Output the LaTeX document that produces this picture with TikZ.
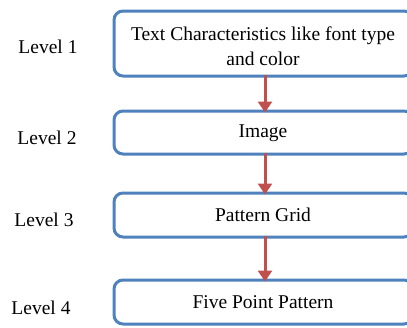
\documentclass[tikz,border=0pt]{standalone}
\usepackage{fontspec}
\setmainfont{Liberation Serif}
\usetikzlibrary{arrows.meta}
\definecolor{boxblue}{HTML}{4F81BD}
\definecolor{arrred}{HTML}{C0504D}
\begin{document}
\begin{tikzpicture}[x=1pt,y=-1pt,
  levelbox/.style={draw=boxblue,line width=3pt,rounded corners=9pt,fill=white},
  lvl/.style={font=\fontsize{19.5}{23}\selectfont,inner sep=0pt},
  boxtext/.style={font=\fontsize{19.5}{25}\selectfont,inner sep=0pt,align=center},
  conn/.style={draw=arrred,line width=3pt,-{Triangle[length=11pt,width=14pt]}}]
\useasboundingbox (0,0) rectangle (407,327);
\clip (0,0) rectangle (407,327);
\fill[white] (0,0) rectangle (407,327);
\draw[levelbox] (114,11) rectangle (413,76);
\draw[levelbox] (114,111) rectangle (413,154);
\draw[levelbox] (114,193) rectangle (413,237);
\draw[levelbox] (114,280) rectangle (413,324);
\coordinate (b1t) at (265,11);
\coordinate (b1b) at (265,76);
\coordinate (b2t) at (265,111);
\coordinate (b2b) at (265,154);
\coordinate (b3t) at (265,193);
\coordinate (b3b) at (265,237);
\coordinate (b4t) at (265,280);
\node[boxtext] (t1) at (263,46) {Text Characteristics like font type\\and color};
\node[boxtext] (t2) at (263,133) {Image};
\node[boxtext] (t3) at (263,215) {Pattern Grid};
\node[boxtext] (t4) at (263,302) {Five Point Pattern};
\node[lvl] (l1) at (48,47) {Level 1};
\node[lvl] (l2) at (47,138) {Level 2};
\node[lvl] (l3) at (44,220) {Level 3};
\node[lvl] (l4) at (41,308) {Level 4};
\draw[conn] ([yshift=1.5pt]b1b) -- ([yshift=-1.5pt]b2t);
\draw[conn] ([yshift=1.5pt]b2b) -- ([yshift=-1.5pt]b3t);
\draw[conn] ([yshift=1.5pt]b3b) -- ([yshift=-1.5pt]b4t);
\end{tikzpicture}
\end{document}
